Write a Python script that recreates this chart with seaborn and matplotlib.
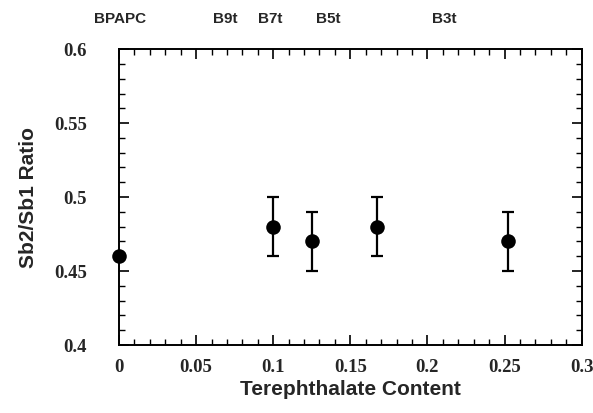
import matplotlib
matplotlib.use("Agg")
import matplotlib.pyplot as plt
import matplotlib.transforms as mtransforms
import seaborn as sns
import numpy as np
import pandas as pd
from matplotlib.ticker import MultipleLocator, FuncFormatter

# Data
tere_content = [0.0, 0.10, 0.125, 0.167, 0.252]
ratio = [0.46, 0.48, 0.47, 0.48, 0.47]
ratio_err = [0.0, 0.02, 0.02, 0.02, 0.02]
sample_labels = ["BPAPC", "B9t", "B7t", "B5t", "B3t"]
label_x = [0.001, 0.069, 0.098, 0.136, 0.211]

sns.set_theme(style="ticks")
plt.rcParams['font.family'] = ['Liberation Sans', 'DejaVu Sans']

df = pd.DataFrame({"x": tere_content, "y": ratio, "err": ratio_err})

fig = plt.figure(figsize=(5.93, 4.13), dpi=100)
ax = fig.add_axes([0.2007, 0.1646, 0.7801, 0.7164])

eb = df[df["err"] > 0]
ax.errorbar(eb["x"], eb["y"], yerr=eb["err"], fmt="none", ecolor="black",
            elinewidth=1.6, capsize=4, capthick=1.6, zorder=2)
sns.scatterplot(data=df, x="x", y="y", ax=ax, color="black", s=110,
                edgecolor="black", linewidth=0, zorder=3, clip_on=False)

ax.set_xlim(0, 0.3)
ax.set_ylim(0.4, 0.6)
ax.xaxis.set_major_locator(MultipleLocator(0.05))
ax.xaxis.set_minor_locator(MultipleLocator(0.01))
ax.yaxis.set_major_locator(MultipleLocator(0.05))
ax.yaxis.set_minor_locator(MultipleLocator(0.01))

def fmt(v, pos):
    return f"{v:.2f}".rstrip("0").rstrip(".")
ax.xaxis.set_major_formatter(FuncFormatter(fmt))
ax.yaxis.set_major_formatter(FuncFormatter(fmt))

ax.tick_params(which="both", direction="in", top=True, right=True, color="black")
ax.tick_params(which="major", length=7, width=1.2)
ax.tick_params(which="minor", length=4, width=1.0)
ax.tick_params(axis="x", which="major", pad=10)
ax.tick_params(axis="y", which="major", pad=23)
for lab in ax.get_xticklabels() + ax.get_yticklabels():
    lab.set_fontfamily("Liberation Serif")
    lab.set_fontweight("bold")
    lab.set_fontsize(13.5)
for sp in ax.spines.values():
    sp.set_linewidth(1.4)
    sp.set_color("black")

ax.set_xlabel("Terephthalate Content", fontsize=15, fontweight="bold", labelpad=3)
ax.set_ylabel("Sb2/Sb1 Ratio", fontsize=15, fontweight="bold", labelpad=12)

label_tr = mtransforms.offset_copy(ax.transData, fig=fig, x=0, y=17, units="points")
for lx, lt in zip(label_x, sample_labels):
    ax.text(lx, 0.6, lt, transform=label_tr, ha="center", va="bottom",
            fontsize=11, fontweight="bold")

fig.savefig("out.png", dpi=100)
